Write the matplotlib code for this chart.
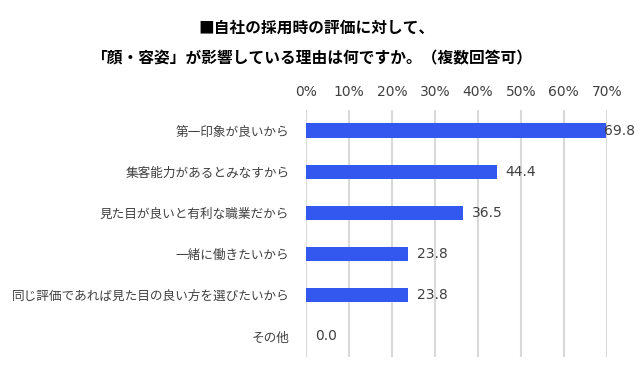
import matplotlib
matplotlib.use('Agg')
from matplotlib import pyplot as plt

plt.rcParams['font.family'] = ['Noto Sans CJK JP', 'DejaVu Sans']

categories = ['第一印象が良いから', '集客能力があるとみなすから', '見た目が良いと有利な職業だから',
              '一緒に働きたいから', '同じ評価であれば見た目の良い方を選びたいから', 'その他']
values = [69.8, 44.4, 36.5, 23.8, 23.8, 0.0]
ticks = [0, 10, 20, 30, 40, 50, 60, 70]
title_lines = ['■自社の採用時の評価に対して、', '「顔・容姿」が影響している理由は何ですか。（複数回答可）']

fig = plt.figure(figsize=(6.4, 3.74), dpi=100)
ax = fig.add_axes([306/640, 1 - 357/374, (606.7 - 306)/640, (357 - 110)/374])

pos = list(range(len(categories)))
ax.barh(pos, values, height=0.35, color='#3358F0', linewidth=0, zorder=3)
ax.set_ylim(len(categories) - 0.5, -0.5)
ax.set_xlim(ticks[0], ticks[-1])

ax.set_yticks(pos)
ax.set_yticklabels(categories, fontsize=9.1, color='#404040')
ax.set_xticks(ticks)
ax.set_xticklabels([f'{t}%' for t in ticks], fontsize=10, color='#404040', family='DejaVu Sans')
ax.xaxis.tick_top()
ax.tick_params(axis='x', length=0, pad=8)
ax.tick_params(axis='y', length=0, pad=12)
ax.grid(axis='x', color='#d9d9d9', linewidth=1.5, zorder=0)
for s in ax.spines.values():
    s.set_visible(False)

for p, v in zip(pos, values):
    off = -1 if v > 65 else 6.5
    ax.annotate(f'{v:.1f}', xy=(v, p), xytext=(off, 0), textcoords='offset points',
                va='center', ha='left', fontsize=10, color='#404040', family='DejaVu Sans', zorder=4)

fig.text(317/640, 1 - 28/374, title_lines[0], ha='center', va='center', fontsize=11.3, fontweight='bold', color='#000000')
fig.text(312/640, 1 - 58/374, title_lines[1], ha='center', va='center', fontsize=11.3, fontweight='bold', color='#000000')

fig.savefig('out.png', dpi=100)
